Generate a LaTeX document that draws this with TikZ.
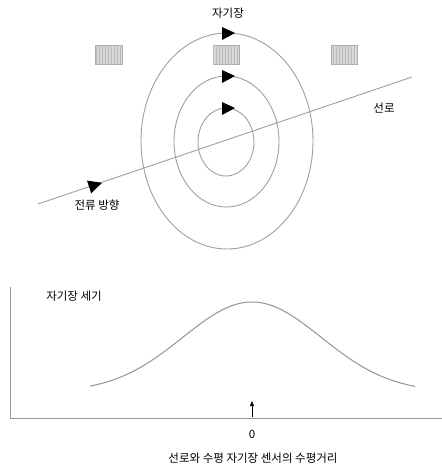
\documentclass[tikz,border=0pt]{standalone}
\usepackage{fontspec}
\setmainfont{Noto Sans CJK KR}
\usetikzlibrary{patterns,arrows.meta}
\begin{document}
\begin{tikzpicture}[x=1pt,y=-1pt,
  field/.style={draw=gray!75,line width=0.9pt},
  sensor/.style={draw=gray!65,line width=0.6pt,fill=gray!30,postaction={pattern=vertical lines,pattern color=gray!55}},
  tri/.style={fill=black},
  lbl/.style={font=\fontsize{11.5}{13}\selectfont,inner sep=0pt},
  axis/.style={draw=gray!80,line width=0.8pt}]
\useasboundingbox (0,0) rectangle (442,467);
% sensors
\path[sensor] (95,45) rectangle (122,64);
\path[sensor] (213,45) rectangle (239,64);
\path[sensor] (331,45) rectangle (357,64);
% field lines
\draw[field] (227,141) ellipse [x radius=86,y radius=108];
\draw[field] (226.5,141.5) ellipse [x radius=52.5,y radius=65.5];
\draw[field] (226,142) ellipse [x radius=28,y radius=34];
% conductor
\coordinate (wa) at (38,204);
\coordinate (wb) at (412,77);
\draw[field] (wa) -- (wb);
% arrowheads
\fill[tri] (222,27) -- (235,33) -- (222,40) -- cycle;
\fill[tri] (222,70) -- (235,76) -- (222,83) -- cycle;
\fill[tri] (222,102) -- (235,108) -- (222,115) -- cycle;
\fill[tri] (102,182.8) -- (91.2,193.4) -- (87.0,180.6) -- cycle;
% labels
\node[lbl] (mf) at (228,13) {자기장};
\node[lbl] (line) at (384,108) {선로};
\node[lbl] (cur) at (97,205) {전류 방향};
% graph
\coordinate (o) at (10,418);
\coordinate (ytop) at (10,287);
\coordinate (xend) at (442,418);
\draw[axis] (ytop) -- (o) -- (xend);
\draw[gray!85,line width=1pt,domain=90:415,samples=120,smooth] plot (\x,{392-90*exp(-((\x-252)/98)^2)});
\coordinate (a0) at (252,417);
\coordinate (a1) at (252,401);
\draw[line width=0.6pt,-{Triangle[length=5pt,width=4pt]}] (a0) -- (a1);
\node[lbl] (str) at (74,296) {자기장 세기};
\node[lbl] (zero) at (252,434) {0};
\node[lbl] (xl) at (253,458) {선로와 수평 자기장 센서의 수평거리};
\end{tikzpicture}
\end{document}
